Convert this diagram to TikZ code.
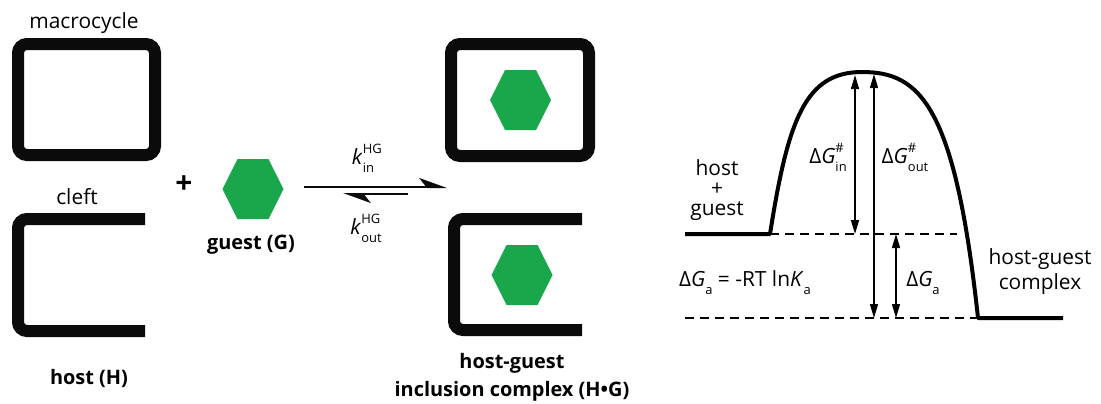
\documentclass[tikz,border=0pt]{standalone}
\usepackage{fontspec}
\setmainfont{Open Sans}
\usetikzlibrary{arrows.meta}
\definecolor{hgGreen}{HTML}{1AA64B}
\definecolor{hgInk}{HTML}{0B0B0B}
\newcommand{\scriptsz}{\fontsize{13}{13}\selectfont}
\newcommand{\supsub}[2]{\rlap{\raisebox{1ex}{\scriptsz #1}}\raisebox{-0.7ex}{\scriptsz #2}}

\begin{document}
\begin{tikzpicture}[
  x=1bp,y=-1bp,
  font=\fontsize{21}{25}\selectfont,
  host/.style={line width=12bp,draw=hgInk,rounded corners=9bp},
  txt/.style={inner sep=0pt,align=center},
  boldtxt/.style={txt,font=\fontsize{20}{28}\selectfont\bfseries},
  rxn/.style={line width=2bp,draw=hgInk,-{Stealth[left,length=25bp,width=18bp,inset=7bp]}},
  level/.style={line width=4bp,line join=round},
  guide/.style={line width=1.3bp,dash pattern=on 9bp off 6bp},
  gap/.style={line width=1.5bp,{Triangle[length=14bp,width=8bp]}-{Triangle[length=14bp,width=8bp]}},
  guestmol/.pic={\fill[hgGreen] (-30.5,0) -- (-15.5,-30) -- (15.5,-30) -- (30.5,0) -- (15.5,30) -- (-15.5,30) -- cycle;}
]
\useasboundingbox (0,0) rectangle (1101,403);

% free host and guest
\draw[host] (18,44) rectangle (155,155);
\draw[host] (145,219) -- (18,219) -- (18,331) -- (145,331);
\pic at (253,189) {guestmol};
\node[txt] (macro) at (84,23) {macrocycle};
\node[txt] (cleft) at (77,197) {cleft};
\node[boldtxt] (hostH) at (89,378) {host (H)};
\node[txt,font=\fontsize{30}{30}\selectfont\bfseries] (plus) at (184,185) {+};
\node[boldtxt] (guestG) at (251,245) {guest (G)};

% equilibrium
\coordinate (fwdA) at (304,187);
\coordinate (fwdB) at (447,187);
\coordinate (bwdA) at (408,194);
\coordinate (bwdB) at (343,194);
\draw[rxn] (fwdA) -- (fwdB);
\draw[rxn] (bwdA) -- (bwdB);
\node[txt] (kin) at (363,158) {\textit{k}\supsub{HG}{in}};
\node[txt] (kout) at (366,228) {\textit{k}\supsub{HG}{out}};

% inclusion complexes
\draw[host] (451,44) rectangle (589,156);
\draw[host] (582,219) -- (454,219) -- (454,330) -- (582,330);
\pic at (520.5,100) {guestmol};
\pic at (522,275) {guestmol};
\node[boldtxt] (complex) at (512,377) {host-guest\\inclusion complex (H\textbullet G)};

% energy profile
\draw[level] (685,234) -- (770,234) .. controls (788,120) and (805,72) .. (862,72)
  .. controls (920,72) and (955,105) .. (978,318) -- (1063,318);
\draw[guide] (770,234) -- (957,234);
\draw[guide] (685,318) -- (978,318);

\coordinate (inTop) at (855,75);
\coordinate (inBot) at (855,234);
\coordinate (outTop) at (874,74);
\coordinate (outBot) at (874,318);
\coordinate (aTop) at (896,234);
\coordinate (aBot) at (896,318);
\draw[gap] (inTop) -- (inBot);
\draw[gap] (outTop) -- (outBot);
\draw[gap] (aTop) -- (aBot);

\node[txt] (dGin) at (828,157) {Δ\textit{G}\supsub{\#}{in}};
\node[txt] (dGout) at (905,157) {Δ\textit{G}\supsub{\#}{out}};
\node[txt,font=\fontsize{21}{20}\selectfont] (reactants) at (717,190) {host\\+\\guest};
\node[txt] (dGeq) at (745,283) {Δ\textit{G}\supsub{}{a} = -RT ln\textit{K}\supsub{}{a}};
\node[txt] (dGa) at (923,283) {Δ\textit{G}\supsub{}{a}};
\node[txt] (product) at (1040,272) {host-guest\\complex};
\end{tikzpicture}
\end{document}
